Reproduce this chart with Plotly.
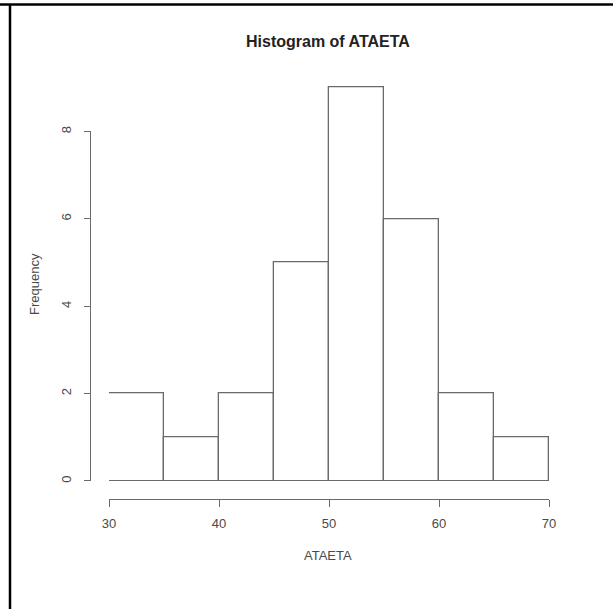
import plotly.graph_objects as go

# Data
bin_starts = [30, 35, 40, 45, 50, 55, 60, 65]
bin_width = 5
counts = [2, 1, 2, 5, 9, 6, 2, 1]
x_ticks = [30, 40, 50, 60, 70]
y_ticks = [0, 2, 4, 6, 8]
title_text = "Histogram of ATAETA"
x_title = "ATAETA"
y_title = "Frequency"

W, H = 613, 609
px = lambda v: v / W
py = lambda v: 1 - v / H

axis_col = "#6a6a6a"
text_col = "#4a4a4a"
font_family = "Liberation Sans, Arial, sans-serif"

# y scale: 0 at 481 px, 8 at 131.5 px
y0_px, y8_px = 481.0, 131.5
unit = (y0_px - y8_px) / 8.0
y_top = 9.4
ytop_px = y0_px - y_top * unit

fig = go.Figure()
fig.add_trace(go.Bar(
    x=bin_starts, y=counts, width=[bin_width] * len(counts), offset=0,
    marker=dict(color="white", line=dict(color=axis_col, width=1.3)),
    hoverinfo="x+y", showlegend=False,
))

fig.update_layout(
    width=W, height=H,
    margin=dict(l=0, r=0, t=0, b=0),
    paper_bgcolor="white", plot_bgcolor="white",
    font=dict(family=font_family, color=text_col, size=13),
    bargap=0,
    xaxis=dict(
        domain=[px(109), px(549)], range=[30, 70],
        anchor="free", position=py(499),
        showline=True, linecolor=axis_col, linewidth=1,
        ticks="outside", ticklen=7, tickcolor=axis_col, tickwidth=1,
        tickvals=x_ticks, ticktext=[str(v) for v in x_ticks],
        ticklabelstandoff=5,
        showgrid=False, zeroline=False, automargin=False,
        tickfont=dict(size=13, color=text_col),
    ),
    yaxis=dict(
        domain=[py(y0_px), py(ytop_px)], range=[0, y_top],
        anchor="free", position=px(90.5),
        showline=False,
        ticks="outside", ticklen=7, tickcolor=axis_col, tickwidth=1,
        tickvals=y_ticks, ticktext=[str(v) for v in y_ticks],
        tickangle=-90, ticklabelstandoff=7,
        showgrid=False, zeroline=False, automargin=False,
        tickfont=dict(size=13, color=text_col),
    ),
    annotations=[
        dict(text="<b>" + title_text + "</b>", x=px(328), y=py(41), xref="paper", yref="paper",
             showarrow=False, xanchor="center", yanchor="middle",
             font=dict(size=16, color="#222222", family=font_family)),
        dict(text=x_title, x=px(328), y=py(555), xref="paper", yref="paper",
             showarrow=False, xanchor="center", yanchor="middle",
             font=dict(size=13, color=text_col, family=font_family)),
        dict(text=y_title, x=px(34), y=py(284), xref="paper", yref="paper",
             showarrow=False, xanchor="center", yanchor="middle", textangle=-90,
             font=dict(size=13, color=text_col, family=font_family)),
    ],
    shapes=[
        # y axis line spanning first to last tick (R style)
        dict(type="line", xref="paper", yref="y", x0=px(90.5), x1=px(90.5),
             y0=y_ticks[0], y1=y_ticks[-1], line=dict(color=axis_col, width=1)),
        # page border lines
        dict(type="line", xref="paper", yref="paper", x0=0, x1=1, y0=py(4.5), y1=py(4.5),
             line=dict(color="black", width=2.5)),
        dict(type="line", xref="paper", yref="paper", x0=px(10), x1=px(10), y0=0, y1=py(4.5),
             line=dict(color="black", width=2.5)),
    ],
)

fig.write_html("out.html", config={"displayModeBar": False},
               post_script="document.body.style.margin='0';document.body.style.overflow='hidden';")
